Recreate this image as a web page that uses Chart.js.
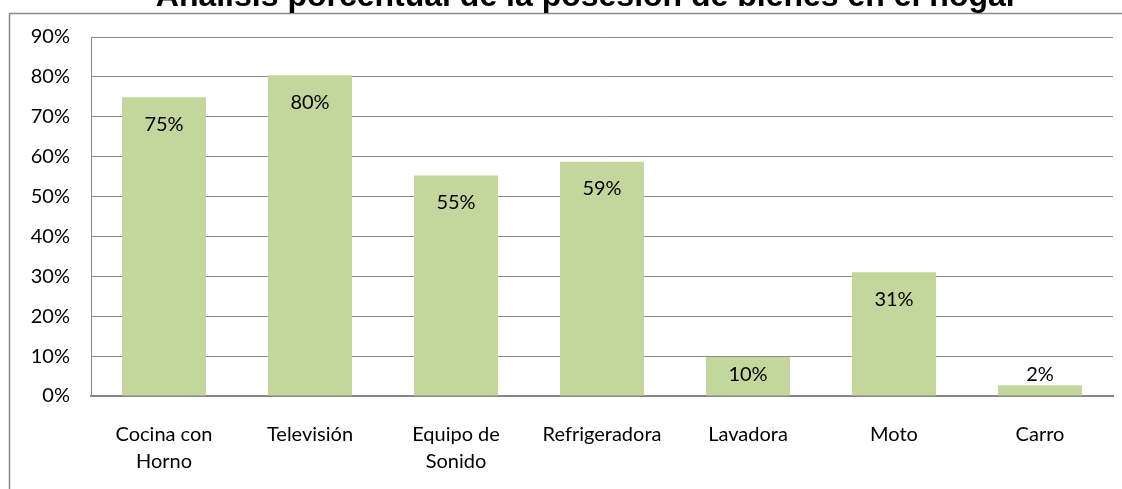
<!DOCTYPE html>
<html>
<head>
<meta charset="utf-8">
<script src="https://cdn.jsdelivr.net/npm/chart.js@4.4.0/dist/chart.umd.min.js"></script>
<style>
  html, body { margin: 0; padding: 0; background: #ffffff; }
  #wrap { width: 1122px; height: 489px; position: relative; }
</style>
</head>
<body>
<div id="wrap"><canvas id="c" width="1122" height="489"></canvas></div>
<script>
const chartTitle = 'Análisis porcentual de la posesión de bienes en el hogar';
const categories = [['Cocina con', 'Horno'], 'Televisión', ['Equipo de', 'Sonido'], 'Refrigeradora', 'Lavadora', 'Moto', 'Carro'];
const values = [74.9, 80.4, 55.3, 58.7, 9.8, 31.0, 2.7];
const valueLabels = ['75%', '80%', '55%', '59%', '10%', '31%', '2%'];
const yMin = 0, yMax = 90, yStep = 10;

const FONT = 'Lato';
const GRID = '#8a8a8a';

const framePlugin = {
  id: 'frame',
  beforeDraw(chart) {
    const ctx = chart.ctx;
    ctx.save();
    ctx.fillStyle = '#ffffff';
    ctx.fillRect(0, 0, chart.width, chart.height);
    ctx.strokeStyle = '#8a8a8a';
    ctx.lineWidth = 1.5;
    ctx.strokeRect(9.5, 13.5, chart.width + 50, chart.height + 50);
    ctx.restore();
  },
  afterDraw(chart) {
    const ctx = chart.ctx;
    ctx.save();
    ctx.fillStyle = '#000000';
    ctx.font = 'bold 32px "Liberation Sans", Arial, sans-serif';
    ctx.textAlign = 'center';
    ctx.textBaseline = 'alphabetic';
    ctx.fillText(chartTitle, 587, 6);
    ctx.restore();
  }
};

const labelPlugin = {
  id: 'valueLabels',
  afterDatasetsDraw(chart) {
    const ctx = chart.ctx;
    const meta = chart.getDatasetMeta(0);
    const zeroY = chart.scales.y.getPixelForValue(0);
    ctx.save();
    ctx.fillStyle = '#000000';
    ctx.font = '20px ' + FONT;
    ctx.textAlign = 'center';
    ctx.textBaseline = 'middle';
    meta.data.forEach((bar, i) => {
      const y = Math.min(bar.y + 27, zeroY - 21);
      ctx.fillText(valueLabels[i], bar.x, y);
    });
    ctx.restore();
  }
};

new Chart(document.getElementById('c'), {
  type: 'bar',
  data: {
    labels: categories,
    datasets: [{
      data: values,
      backgroundColor: '#c3d69b',
      borderWidth: 0,
      barPercentage: 0.575,
      categoryPercentage: 1.0
    }]
  },
  options: {
    responsive: false,
    animation: false,
    layout: { padding: { top: 37, right: 9, left: 0, bottom: 0 } },
    plugins: { legend: { display: false }, title: { display: false }, tooltip: { enabled: false } },
    scales: {
      x: {
        grid: { display: false, drawTicks: false },
        border: { display: true, color: '#868686', width: 2 },
        ticks: {
          color: '#000000',
          font: { family: FONT, size: 20, lineHeight: 1.35 },
          padding: 25,
          maxRotation: 0,
          minRotation: 0,
          autoSkip: false
        },
        afterFit(s) { s.height = 93; }
      },
      y: {
        min: yMin,
        max: yMax,
        grid: { color: GRID, lineWidth: 1, drawTicks: false, tickLength: 0 },
        border: { display: true, color: GRID, width: 1 },
        ticks: {
          stepSize: yStep,
          color: '#000000',
          font: { family: FONT, size: 20 },
          padding: 21,
          callback: v => v + '%'
        },
        afterFit(s) { s.width = 91; }
      }
    }
  },
  plugins: [framePlugin, labelPlugin]
});
</script>
</body>
</html>
